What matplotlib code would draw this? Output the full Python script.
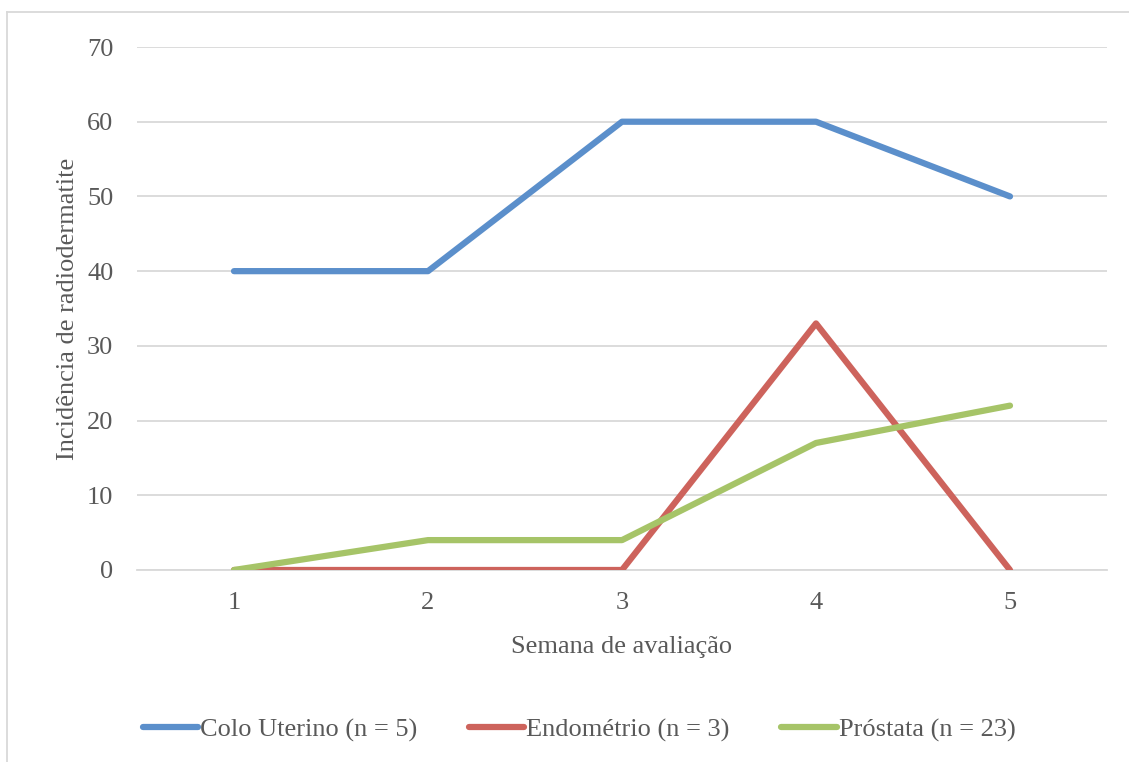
import matplotlib
matplotlib.use("Agg")
import matplotlib.pyplot as plt
from matplotlib.lines import Line2D

semanas = [1, 2, 3, 4, 5]
colo_uterino = [40, 40, 60, 60, 50]
endometrio = [0, 0, 0, 33, 0]
prostata = [0, 4, 4, 17, 22]
series_labels = ["Colo Uterino (n = 5)", "Endométrio (n = 3)", "Próstata (n = 23)"]
y_ticks = [0, 10, 20, 30, 40, 50, 60, 70]

colors = ["#5B8FCB", "#CD635C", "#A6C468"]
text_color = "#595959"
fs = 19

plt.rcParams["font.family"] = ["Liberation Serif", "DejaVu Serif"]

W, H = 1129, 762
fig = plt.figure(figsize=(W / 100, H / 100), dpi=100)

ax = fig.add_axes([137 / W, 1 - 570 / H, (1107 - 137) / W, (570 - 47) / H])

for vals, c, lab in zip([colo_uterino, endometrio, prostata], colors, series_labels):
    ax.plot(semanas, vals, color=c, lw=4.5, label=lab,
            solid_capstyle="round", solid_joinstyle="round", zorder=3)

ax.set_xlim(0.5, 5.5)
ax.set_ylim(0, 70)
ax.set_yticks(y_ticks)
ax.set_xticks(semanas)
ax.grid(axis="y", color="#D9D9D9", lw=1.3, zorder=0)
ax.set_axisbelow(True)
for s in ["top", "right", "left"]:
    ax.spines[s].set_visible(False)
ax.spines["bottom"].set_color("#D9D9D9")
ax.spines["bottom"].set_linewidth(1.3)
ax.tick_params(axis="both", length=0, labelsize=fs, colors=text_color)
ax.tick_params(axis="y", pad=17)
ax.tick_params(axis="x", pad=16)

ax.set_xlabel("Semana de avaliação", fontsize=fs, color=text_color, labelpad=16)
ax.set_ylabel("Incidência de radiodermatite", fontsize=fs, color=text_color, labelpad=6)

leg = fig.legend(loc="center", bbox_to_anchor=(579 / W, 1 - 730 / H), ncol=3,
                 frameon=False, fontsize=fs, handlelength=2.1, handletextpad=0.08,
                 columnspacing=1.95, labelcolor=text_color)

# chart frame (top and left edges)
fig.add_artist(Line2D([7 / W, 1], [1 - 12 / H, 1 - 12 / H], color="#D9D9D9", lw=1.3,
                      transform=fig.transFigure))
fig.add_artist(Line2D([7 / W, 7 / W], [0, 1 - 12 / H], color="#D9D9D9", lw=1.3,
                      transform=fig.transFigure))

fig.savefig("out.png", dpi=100, facecolor="white")
